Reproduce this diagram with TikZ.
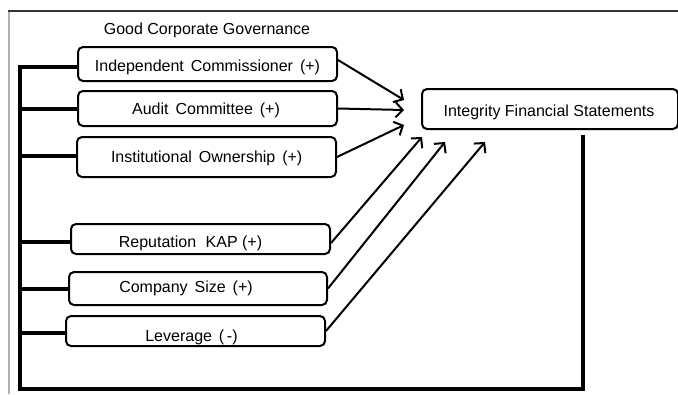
\documentclass[tikz,border=0pt]{standalone}
\usepackage{fontspec}
\setmainfont{Liberation Sans}
\usetikzlibrary{arrows.meta}
\newcommand\wgap{\hspace{2.5pt}}
\tikzset{
  box/.style={draw=black, line width=2pt, rounded corners=5pt, inner sep=0pt, minimum width=259pt},
  lbl/.style={anchor=base, inner sep=0pt, font=\fontsize{16}{19}\selectfont},
  bracket/.style={line width=3.2pt, line join=miter, line cap=rect},
  feed/.style={line width=3.2pt},
  arr/.style={line width=2pt, -{Straight Barb[length=7pt,width=15pt,line width=2pt]}},
}
\begin{document}
\begin{tikzpicture}[x=1pt,y=-1pt]
\useasboundingbox (0,0) rectangle (678,394);
% outer frame
\draw[line width=1.8pt, gray!60] (9,394) -- (9,11);
\draw[line width=1.4pt, black!80] (8,11) -- (678,11);

\node[lbl] (gcg) at (207,34.3) {Good Corporate Governance};

% boxes
\node[box, minimum height=34pt] (b1) at (207.5,64) {};
\node[box, minimum height=35pt] (b2) at (207.5,108.5) {};
\node[box, minimum height=40pt] (b3) at (206.5,157) {};
\node[box, minimum height=30pt] (b4) at (200.5,239) {};
\node[box, minimum height=33pt, minimum width=258pt] (b5) at (198,288.5) {};
\node[box, minimum height=30pt] (b6) at (195.5,331) {};
\node[box, minimum height=40pt, minimum width=256pt] (ifs) at (550,109) {};

% labels
\node[lbl] (t1) at (207.5,71) {Independent\wgap{} Commissioner\wgap{} (+)};
\node[lbl] (t2) at (206,114.5) {Audit\wgap{} Committee\wgap{} (+)};
\node[lbl] (t3) at (206.7,162.5) {Institutional\wgap{} Ownership\wgap{} (+)};
\node[lbl] (t4) at (190.5,247.5) {Reputation\hspace{5pt} KAP (+)};
\node[lbl] (t5) at (186,292.5) {Company\wgap{} Size\wgap{} (+)};
\node[lbl] (t6) at (191.5,341) {Leverage\wgap{} (\,-)};
\node[lbl] (ti) at (549,116) {Integrity Financial Statements};

% bracket
\coordinate (k1) at (20,67);
\coordinate (k2) at (20,109);
\coordinate (k3) at (20,156);
\coordinate (k4) at (20,242);
\coordinate (k5) at (20,289);
\coordinate (k6) at (20,333);
\coordinate (bl) at (20,389);
\coordinate (br) at (583,389);
\coordinate (rt) at (583,137);
\draw[bracket] (k1) -- (bl) -- (br) -- (rt);
\draw[feed] (k1) -- (k1 -| b1.west);
\draw[feed] (k2) -- (k2 -| b2.west);
\draw[feed] (k3) -- (k3 -| b3.west);
\draw[feed] (k4) -- (k4 -| b4.west);
\draw[feed] (k5) -- (k5 -| b5.west);
\draw[feed] (k6) -- (k6 -| b6.west);

% arrow ends
\coordinate (e1) at (404,100);
\coordinate (e2) at (404,110);
\coordinate (e3) at (404,125);
\coordinate (e4) at (422,137);
\coordinate (e5) at (445,142);
\coordinate (e6) at (485,142);

\draw[arr] ([yshift=4pt]b1.east) -- (e1);
\draw[arr] (b2.east) -- (e2);
\draw[arr] (b3.east) -- (e3);
\draw[arr] ([yshift=-4pt]b4.east) -- (e4);
\draw[arr] (b5.east) -- (e5);
\draw[arr] (b6.east) -- (e6);
\end{tikzpicture}
\end{document}
